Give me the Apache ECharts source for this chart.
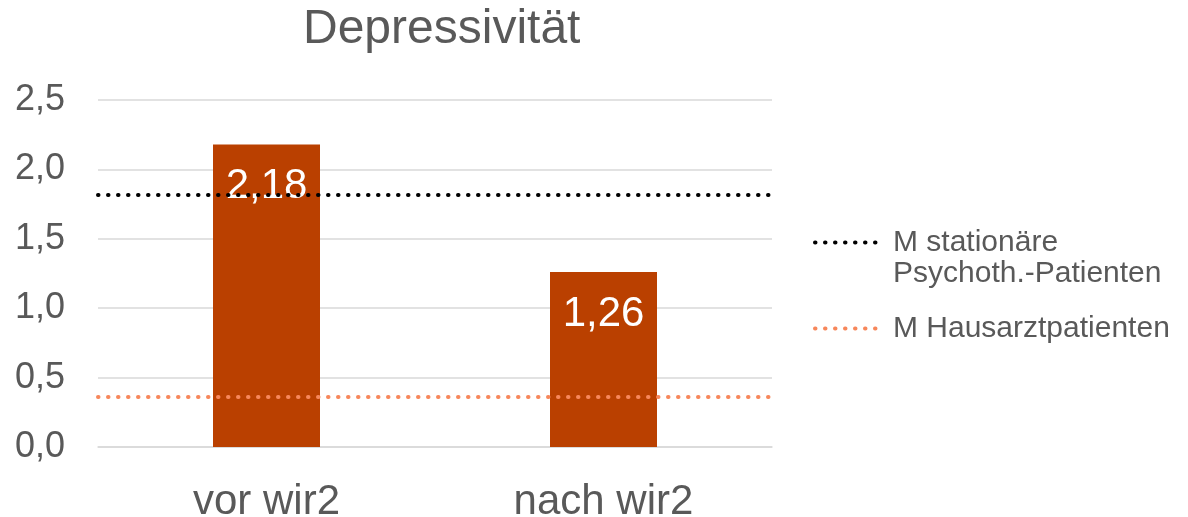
<!DOCTYPE html>
<html>
<head>
<meta charset="utf-8">
<title>Depressivität</title>
<script src="https://cdn.jsdelivr.net/npm/echarts@6/dist/echarts.min.js"></script>
<style>
  * { margin: 0; padding: 0; }
  body { background: #fff; }
  #chart { width: 1188px; height: 517px; }
</style>
</head>
<body>
<div id="chart"></div>
<script>
// Werte
var categories = ['vor wir2', 'nach wir2'];
var barValues = [2.18, 1.26];
var refNames = ['M stationäre Psychoth.-Patienten', 'M Hausarztpatienten'];
var refValues = [1.82, 0.36];
var refColors = ['#000000', '#F7875B'];
var yTicks = [0, 0.5, 1.0, 1.5, 2.0, 2.5];

var grey = '#595959';
var font = "'Liberation Sans', Arial, sans-serif";

function komma(v, d) {
  return Number(v).toFixed(d).replace('.', ',');
}

var dots = [0.5, 9.5];

var series = [{
  name: 'Depressivität',
  type: 'bar',
  data: barValues,
  barWidth: 107,
  itemStyle: { color: '#BA4000' },
  label: {
    show: true,
    position: 'insideTop',
    distance: 21,
    color: '#fff',
    fontSize: 42,
    fontFamily: font,
    formatter: function (p) { return komma(p.value, 2); }
  },
  z: 2
}];

// Referenzlinien als markLine, damit sie die ganze Breite abdecken
refNames.forEach(function (n, i) {
  series.push({
    name: n,
    type: 'line',
    data: [],
    symbol: 'none',
    lineStyle: { color: refColors[i], width: 4, type: dots, cap: 'round' },
    itemStyle: { color: refColors[i] },
    markLine: {
      silent: true,
      symbol: 'none',
      label: { show: false },
      lineStyle: { color: refColors[i], width: 4, type: dots, cap: 'round' },
      data: [{ yAxis: refValues[i] }]
    },
    z: 3
  });
});

function legendFor(i, top) {
  return {
    data: [refNames[i]],
    orient: 'vertical',
    left: 813,
    top: top,
    padding: 0,
    itemWidth: 64,
    itemHeight: 14,
    // leere erste Zeile, damit die Linie auf Höhe der ersten Textzeile sitzt
    formatter: function (n) {
      return n === refNames[0] ? ' \nM stationäre\nPsychoth.-Patienten' : n;
    },
    itemStyle: { opacity: 0 },
    lineStyle: { color: refColors[i], width: 4, type: [0.5, 9.5], cap: 'round' },
    textStyle: { color: grey, fontSize: 30, lineHeight: 31, fontFamily: font, padding: [0, 0, 0, 9] }
  };
}

var chart = echarts.init(document.getElementById('chart'));
chart.setOption({
  animation: false,
  backgroundColor: '#fff',
  title: {
    text: 'Depressivität',
    left: 303,
    top: 6,
    padding: 0,
    textStyle: { color: grey, fontSize: 48, fontWeight: 'normal', fontFamily: font }
  },
  legend: [legendFor(0, 196), legendFor(1, 313)],
  grid: { left: 98, right: 416, top: 100, bottom: 70, containLabel: false, outerBoundsMode: 'none' },
  xAxis: {
    type: 'category',
    data: categories,
    axisLine: { show: true, lineStyle: { color: '#D9D9D9', width: 1.5 } },
    axisTick: { show: false },
    axisLabel: { color: grey, fontSize: 42, fontFamily: font, margin: 34 }
  },
  yAxis: {
    type: 'value',
    min: yTicks[0],
    max: yTicks[yTicks.length - 1],
    interval: 0.5,
    axisLine: { show: false },
    axisTick: { show: false },
    splitLine: { lineStyle: { color: '#D9D9D9', width: 1.5 } },
    axisLabel: {
      color: grey, fontSize: 36, fontFamily: font, margin: 33,
      formatter: function (v) { return komma(v, 1); }
    }
  },
  series: series
});
</script>
</body>
</html>
